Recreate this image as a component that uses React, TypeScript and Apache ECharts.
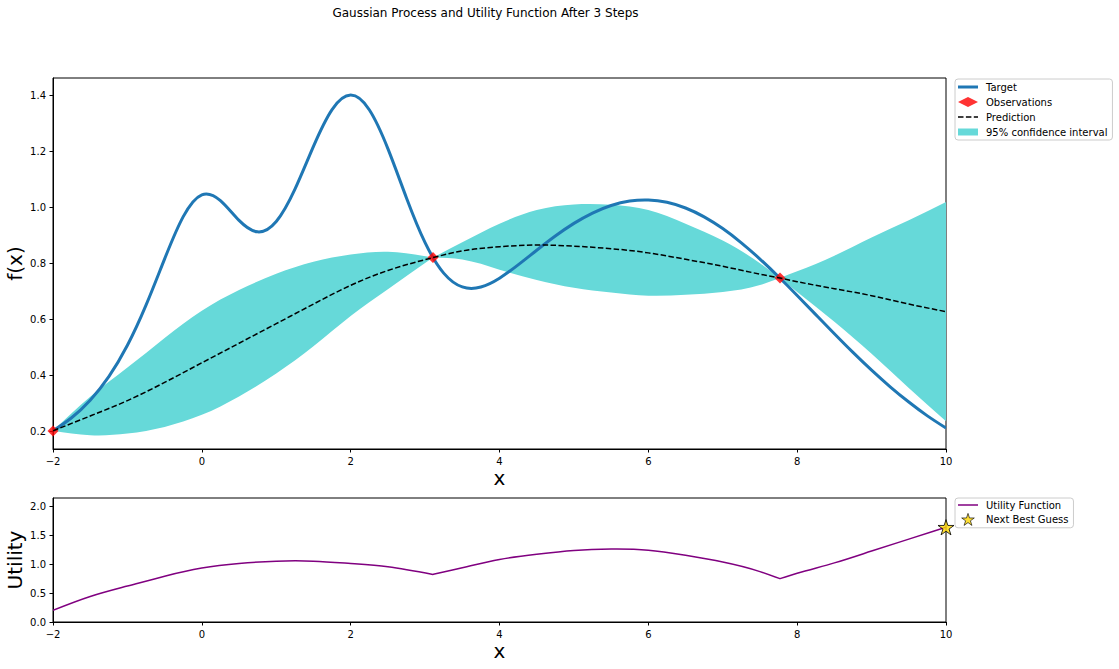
import React, { useEffect, useRef } from "react";
import * as echarts from "echarts";

// ---- Data ----
const targetX = [
  -2, -1.75, -1.5, -1.25, -1, -0.75, -0.5, -0.25, 0, 0.25, 0.5, 0.75, 1, 1.25, 1.5, 1.75,
  2, 2.25, 2.5, 2.75, 3, 3.25, 3.5, 3.75, 4, 4.25, 4.5, 4.75, 5, 5.25, 5.5, 5.75, 6, 6.25,
  6.5, 6.75, 7, 7.25, 7.5, 7.75, 8, 8.25, 8.5, 8.75, 9, 9.25, 9.5, 9.75, 10,
];
const targetY = [
  0.2017, 0.2486, 0.3113, 0.3955, 0.5076, 0.651, 0.8166, 0.9676, 1.0456, 1.0247, 0.954,
  0.9131, 0.95, 1.0647, 1.2185, 1.3499, 1.4019, 1.3495, 1.2105, 1.0344, 0.8745, 0.7656,
  0.7162, 0.7159, 0.7474, 0.7952, 0.8475, 0.8982, 0.9434, 0.9803, 1.0073, 1.0232, 1.027,
  1.0188, 0.9984, 0.9668, 0.9248, 0.874, 0.816, 0.7526, 0.6857, 0.6173, 0.549, 0.4823,
  0.4188, 0.3594, 0.3048, 0.2554, 0.2118,
];

const obsX = [-2, 3.106, 7.769];
const obsY = [0.2017, 0.821, 0.748];

const gpX = [
  -2, -1.5, -1, -0.5, 0, 0.5, 1, 1.5, 2, 2.5, 3.106, 3.5, 4, 4.5, 5, 5.5, 6, 6.5, 7, 7.5,
  7.769, 8, 8.5, 9, 9.5, 10,
];
const predMean = [
  0.202, 0.255, 0.31, 0.375, 0.445, 0.515, 0.585, 0.655, 0.722, 0.775, 0.821, 0.845, 0.86,
  0.866, 0.862, 0.853, 0.838, 0.815, 0.79, 0.762, 0.748, 0.735, 0.71, 0.685, 0.655, 0.628,
];
const ciUpper = [
  0.202, 0.324, 0.428, 0.534, 0.631, 0.705, 0.763, 0.806, 0.832, 0.842, 0.821, 0.876, 0.942,
  0.991, 1.011, 1.01, 0.991, 0.942, 0.882, 0.801, 0.748, 0.772, 0.828, 0.893, 0.955, 1.02,
];
const ciLower = [
  0.202, 0.186, 0.192, 0.216, 0.259, 0.325, 0.407, 0.504, 0.612, 0.708, 0.821, 0.814, 0.778,
  0.741, 0.713, 0.696, 0.685, 0.688, 0.698, 0.723, 0.748, 0.698, 0.592, 0.477, 0.355, 0.236,
];

const utilX = gpX;
const utilY = [
  0.202, 0.44, 0.62, 0.79, 0.93, 1.01, 1.05, 1.05, 1.01, 0.955, 0.821, 0.935, 1.08, 1.17,
  1.235, 1.26, 1.24, 1.15, 1.035, 0.87, 0.748, 0.84, 1.02, 1.225, 1.43, 1.635,
];

const nextX = [10];
const nextY = [1.635];

const fTicks = [0.2, 0.4, 0.6, 0.8, 1.0, 1.2, 1.4];
const uTicks = [0, 0.5, 1.0, 1.5, 2.0];

const FONT = "DejaVu Sans";
const STAR =
  "path://M50,0 L61.2,34.5 L97.6,34.5 L68.2,55.9 L79.4,90.5 L50,69.1 L20.6,90.5 L31.8,55.9 L2.4,34.5 L38.8,34.5 Z";
const ICON_THICK = "path://M0,0 H20 V3 H0 Z";
const ICON_THIN = "path://M0,0 H20 V1.5 H0 Z";
const ICON_DASH = "path://M0,0 H5.5 V1.5 H0 Z M7.9,0 H13.4 V1.5 H7.9 Z M15.8,0 H20 V1.5 H15.8 Z";

type Pt = number[];
type Seg = Pt[]; // [p0, c1, c2, p1] in data space

function pairs(xs: number[], ys: number[]) {
  return xs.map((x, i) => [x, ys[i]]);
}

// natural cubic spline through the read points, as bezier segments (data space)
function splineSegs(xs: number[], ys: number[]): Seg[] {
  const n = xs.length;
  const h: number[] = [];
  for (let i = 0; i < n - 1; i++) h.push(xs[i + 1] - xs[i]);
  const M = new Array(n).fill(0);
  const m = n - 2;
  if (m > 0) {
    const a: number[] = [], b: number[] = [], c: number[] = [], d: number[] = [];
    for (let k = 0; k < m; k++) {
      const i = k + 1;
      a.push(h[i - 1]);
      b.push(2 * (h[i - 1] + h[i]));
      c.push(h[i]);
      d.push(6 * ((ys[i + 1] - ys[i]) / h[i] - (ys[i] - ys[i - 1]) / h[i - 1]));
    }
    for (let k = 1; k < m; k++) {
      const w = a[k] / b[k - 1];
      b[k] -= w * c[k - 1];
      d[k] -= w * d[k - 1];
    }
    const sol = new Array(m).fill(0);
    sol[m - 1] = d[m - 1] / b[m - 1];
    for (let k = m - 2; k >= 0; k--) sol[k] = (d[k] - c[k] * sol[k + 1]) / b[k];
    for (let k = 0; k < m; k++) M[k + 1] = sol[k];
  }
  const segs: Seg[] = [];
  for (let i = 0; i < n - 1; i++) {
    const hh = h[i];
    const s = (ys[i + 1] - ys[i]) / hh;
    const d0 = s - (hh * (2 * M[i] + M[i + 1])) / 6;
    const d1 = s + (hh * (M[i] + 2 * M[i + 1])) / 6;
    segs.push([
      [xs[i], ys[i]],
      [xs[i] + hh / 3, ys[i] + (d0 * hh) / 3],
      [xs[i + 1] - hh / 3, ys[i + 1] - (d1 * hh) / 3],
      [xs[i + 1], ys[i + 1]],
    ]);
  }
  return segs;
}

// split at kink indices (observations), spline each piece
function piecewiseSegs(xs: number[], ys: number[], withBreaks: boolean): Seg[] {
  const cuts = [0];
  if (withBreaks) {
    obsX.forEach((ox) => {
      const i = xs.indexOf(ox);
      if (i > 0 && i < xs.length - 1) cuts.push(i);
    });
  }
  cuts.push(xs.length - 1);
  cuts.sort((p, q) => p - q);
  let out: Seg[] = [];
  for (let k = 0; k < cuts.length - 1; k++) {
    out = out.concat(splineSegs(xs.slice(cuts[k], cuts[k + 1] + 1), ys.slice(cuts[k], cuts[k + 1] + 1)));
  }
  return out;
}

function segPath(segs: Seg[], coord: (p: Pt) => Pt, start: string, reverse: boolean): string {
  const list = reverse ? segs.slice().reverse().map((s) => [s[3], s[2], s[1], s[0]]) : segs;
  const f = (p: Pt) => {
    const q = coord(p);
    return `${q[0].toFixed(2)},${q[1].toFixed(2)}`;
  };
  let d = `${start}${f(list[0][0])}`;
  list.forEach((s) => {
    d += ` C${f(s[1])} ${f(s[2])} ${f(s[3])}`;
  });
  return d;
}

function curveSeries(
  name: string,
  xs: number[],
  ys: number[],
  axis: number,
  color: string,
  width: number,
  z: number,
  withBreaks: boolean,
  dash?: number[]
) {
  const segs = piecewiseSegs(xs, ys, withBreaks);
  return {
    type: "custom",
    name,
    xAxisIndex: axis,
    yAxisIndex: axis,
    clip: true,
    z,
    itemStyle: { color },
    data: pairs(xs, ys),
    renderItem: (params: any, api: any) => {
      if (params.dataIndex !== 0) return null;
      return {
        type: "path",
        shape: { pathData: segPath(segs, (p) => api.coord(p), "M", false) },
        style: {
          fill: null,
          stroke: color,
          lineWidth: width,
          lineDash: dash || null,
          lineCap: "butt",
          lineJoin: "round",
        },
      };
    },
  };
}

function buildOption() {
  const axisCommon = {
    axisLine: { show: true, onZero: false, lineStyle: { color: "#000", width: 1 } },
    axisTick: { show: true, inside: false, length: 3.5, lineStyle: { color: "#000", width: 1 } },
    splitLine: { show: false },
  };

  const xAxisFor = (gridIndex: number) => ({
    type: "value",
    gridIndex,
    min: -2,
    max: 10,
    interval: 2,
    ...axisCommon,
    axisLabel: {
      fontSize: 10,
      fontFamily: FONT,
      color: "#000",
      margin: 7,
      formatter: (v: number) => String(v).replace("-", "\u2212"),
    },
    name: "x",
    nameLocation: "middle",
    nameGap: 19,
    nameMoveOverlap: false,
    nameTextStyle: { fontSize: 20, fontFamily: FONT, color: "#000" },
  });

  const yName = (name: string) => ({
    name,
    nameLocation: "middle",
    nameGap: 28,
    nameRotate: 90,
    nameMoveOverlap: false,
    nameTextStyle: { fontSize: 20, fontFamily: FONT, color: "#000" },
  });

  const legendCommon = {
    orient: "vertical",
    itemWidth: 20,
    itemHeight: 10,
    itemGap: 5,
    padding: [3, 5, 3, 3],
    borderColor: "#cccccc",
    borderWidth: 1,
    borderRadius: 3,
    backgroundColor: "#fff",
    selectedMode: false,
    symbolKeepAspect: true,
    textStyle: { fontSize: 10, fontFamily: FONT, color: "#000", padding: [0, 0, 0, 3] },
  };

  const upSegs = piecewiseSegs(gpX, ciUpper, true);
  const loSegs = piecewiseSegs(gpX, ciLower, true);

  return {
    animation: false,
    backgroundColor: "#fff",
    graphic: [
      {
        type: "text",
        x: 485.5,
        y: 13,
        style: {
          text: "Gaussian Process and Utility Function After 3 Steps",
          fontSize: 12,
          fontFamily: FONT,
          fill: "#000",
          align: "center",
          verticalAlign: "middle",
        },
      },
    ],
    grid: [
      {
        left: 53, top: 78, width: 893, height: 371, outerBoundsMode: "none", containLabel: false,
        show: true, borderColor: "#000", borderWidth: 1, backgroundColor: "transparent",
      },
      {
        left: 53, top: 498, width: 893, height: 124, outerBoundsMode: "none", containLabel: false,
        show: true, borderColor: "#000", borderWidth: 1, backgroundColor: "transparent",
      },
    ],
    xAxis: [xAxisFor(0), xAxisFor(1)],
    yAxis: [
      {
        type: "value",
        gridIndex: 0,
        min: 0.137,
        max: 1.463,
        ...axisCommon,
        axisTick: { ...axisCommon.axisTick, customValues: fTicks },
        axisLabel: {
          customValues: fTicks,
          fontSize: 10,
          fontFamily: FONT,
          color: "#000",
          margin: 7,
          formatter: (v: number) => v.toFixed(1),
        },
        ...yName("f(x)"),
      },
      {
        type: "value",
        gridIndex: 1,
        min: 0,
        max: 2.14,
        ...axisCommon,
        axisTick: { ...axisCommon.axisTick, customValues: uTicks },
        axisLabel: {
          customValues: uTicks,
          fontSize: 10,
          fontFamily: FONT,
          color: "#000",
          margin: 7,
          formatter: (v: number) => v.toFixed(1),
        },
        ...yName("Utility"),
      },
    ],
    legend: [
      {
        ...legendCommon,
        left: 955,
        top: 79,
        data: [
          { name: "Target", icon: ICON_THICK },
          { name: "Observations", icon: "diamond" },
          { name: "Prediction", icon: ICON_DASH },
          { name: "95% confidence interval", icon: "path://M0,0 H20 V7 H0 Z" },
        ],
      },
      {
        ...legendCommon,
        left: 955,
        top: 498,
        itemHeight: 12,
        itemGap: 3,
        padding: [2, 5, 2, 3],
        data: [
          { name: "Utility Function", icon: ICON_THIN },
          { name: "Next Best Guess", icon: STAR, itemStyle: { borderWidth: 0.8 } },
        ],
      },
    ],
    series: [
      {
        type: "custom",
        name: "95% confidence interval",
        xAxisIndex: 0,
        yAxisIndex: 0,
        clip: true,
        z: 1,
        itemStyle: { color: "#66d9d9" },
        data: [[gpX[0], ciLower[0]]],
        renderItem: (params: any, api: any) => {
          const coord = (p: Pt) => api.coord(p);
          const d = segPath(upSegs, coord, "M", false) + " " + segPath(loSegs, coord, "L", true) + " Z";
          return {
            type: "path",
            shape: { pathData: d },
            style: { fill: "#66d9d9", stroke: null },
          };
        },
      },
      curveSeries("Target", targetX, targetY, 0, "#1f77b4", 3, 2, false),
      {
        type: "scatter",
        name: "Observations",
        xAxisIndex: 0,
        yAxisIndex: 0,
        data: pairs(obsX, obsY),
        symbol: "diamond",
        symbolSize: 11,
        clip: true,
        itemStyle: { color: "#ff0000" },
        z: 3,
      },
      curveSeries("Prediction", gpX, predMean, 0, "#000000", 1.5, 4, false, [5.5, 2.4]),
      curveSeries("Utility Function", utilX, utilY, 1, "#800080", 1.5, 3, true),
      {
        type: "scatter",
        name: "Next Best Guess",
        xAxisIndex: 1,
        yAxisIndex: 1,
        data: pairs(nextX, nextY),
        symbol: STAR,
        symbolSize: 16,
        symbolKeepAspect: true,
        clip: true,
        itemStyle: { color: "#ffd700", borderColor: "#000", borderWidth: 1 },
        z: 5,
      },
    ],
  };
}

export default function App() {
  const ref = useRef<HTMLDivElement>(null);
  useEffect(() => {
    if (!ref.current) return;
    const chart = echarts.init(ref.current, null, { renderer: "svg" });
    chart.setOption(buildOption() as any);
    return () => chart.dispose();
  }, []);
  return (
    <div
      ref={ref}
      style={{ position: "absolute", left: 0, top: 0, width: 1119, height: 669, background: "#fff" }}
    />
  );
}
